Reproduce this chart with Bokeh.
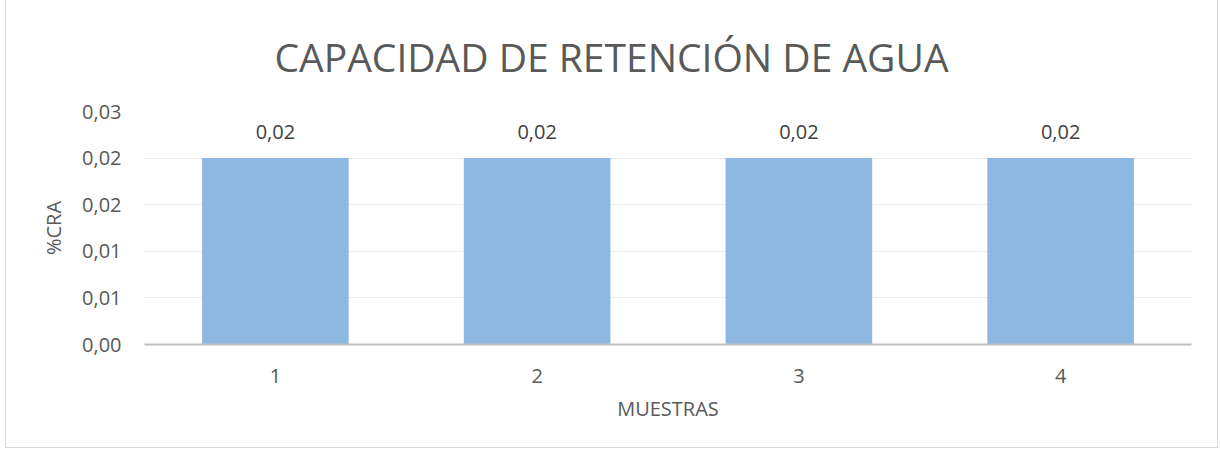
from bokeh.plotting import figure
from bokeh.models import ColumnDataSource, FactorRange, Range1d, FixedTicker, CustomJSTickFormatter
from bokeh.embed import file_html
from bokeh.resources import INLINE
from bokeh.core.properties import value

# ---- data ----
categories = ["1", "2", "3", "4"]
values = [0.02, 0.02, 0.02, 0.02]
y_ticks = [0.0, 0.005, 0.01, 0.015, 0.02, 0.025]
title_text = "CAPACIDAD DE RETENCIÓN DE AGUA"
x_label = "MUESTRAS"
y_label = "%CRA"

labels = [("%.2f" % v).replace(".", ",") for v in values]
src = ColumnDataSource(dict(x=categories, top=values, lab=labels))

FONT = "Open Sans"
TXT = "#595959"
W, H = 1213, 451
BL, BR, BT, BB = 138, 28, 113, 105

p = figure(width=W, height=H, output_backend="svg", toolbar_location=None,
           x_range=FactorRange(*categories, range_padding=0),
           y_range=Range1d(0, 0.025),
           min_border_left=BL, min_border_right=BR, min_border_top=BT, min_border_bottom=BB,
           title=title_text)
p.styles = {"border": "1px solid #d9d9d9", "margin-left": "5px", "margin-top": "-3px"}
p.outline_line_color = None
p.background_fill_color = "white"
p.border_fill_color = "white"

# title: left-aligned with an offset so it sits centred over the whole chart
p.title.align = "left"
p.title.offset = 130
p.title.text_font = FONT
p.title.text_font_size = "39px"
p.title.text_font_style = "normal"
p.title.text_color = TXT
p.title.standoff = 57

p.vbar(x="x", top="top", width=0.56, source=src, color="#8DB8E1", line_color=None)
p.text(x="x", y="top", text="lab", source=src, text_align="center", text_baseline="bottom",
       y_offset=-19, text_font=value(FONT), text_font_size="20px", text_color="#404040")

# y axis
p.yaxis.ticker = FixedTicker(ticks=y_ticks)
p.yaxis.formatter = CustomJSTickFormatter(code="return (tick + 1e-9).toFixed(2).replace('.', ',');")
p.yaxis.axis_line_color = None
p.yaxis.major_tick_line_color = None
p.yaxis.minor_tick_line_color = None
p.yaxis.major_tick_out = 0
p.yaxis.major_label_standoff = 23
p.yaxis.axis_label = y_label
p.yaxis.axis_label_standoff = 12
p.yaxis.axis_label_text_font = FONT
p.yaxis.axis_label_text_font_size = "20px"
p.yaxis.axis_label_text_font_style = "normal"
p.yaxis.axis_label_text_color = TXT
p.yaxis.major_label_text_font = FONT
p.yaxis.major_label_text_font_size = "20px"
p.yaxis.major_label_text_color = TXT

# x axis
p.xaxis.axis_line_color = "#BFBFBF"
p.xaxis.axis_line_width = 2
p.xaxis.major_tick_line_color = None
p.xaxis.minor_tick_line_color = None
p.xaxis.major_tick_out = 0
p.xaxis.major_label_standoff = 24
p.xaxis.axis_label = x_label
p.xaxis.axis_label_standoff = 9
p.xaxis.axis_label_text_font = FONT
p.xaxis.axis_label_text_font_size = "20px"
p.xaxis.axis_label_text_font_style = "normal"
p.xaxis.axis_label_text_color = TXT
p.xaxis.major_label_text_font = FONT
p.xaxis.major_label_text_font_size = "20px"
p.xaxis.major_label_text_color = TXT

p.xgrid.grid_line_color = None
p.ygrid.grid_line_color = "#EBEBEB"
p.ygrid.grid_line_width = 1

open("out.html", "w").write(file_html(p, INLINE))
